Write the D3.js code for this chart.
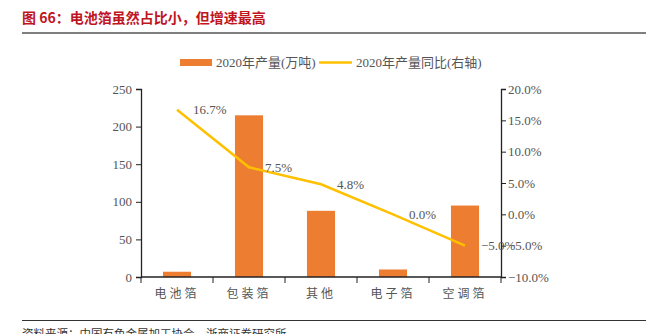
<!DOCTYPE html>
<html>
<head>
<meta charset="utf-8">
<script src="https://cdn.jsdelivr.net/npm/d3@7"></script>
<style>
  body { margin: 0; background: #fff; }
  svg { display: block; }
  .tick text { font-family: "Liberation Serif", "Times New Roman", serif; font-size: 13px; fill: #555; }
  .cn { font-family: "Noto Sans CJK SC", sans-serif; }
</style>
</head>
<body>
<div id="chart"></div>
<script>
// categories and values
let categories = ["电池箔", "包装箔", "其他", "电子箔", "空调箔"];
let output2020 = [7, 215, 88, 10, 95];          // 万吨
let growth2020 = [16.7, 7.5, 4.8, 0.0, -5.0];   // %
let leftTicks = [0, 50, 100, 150, 200, 250];
let rightTicks = [-10, -5, 0, 5, 10, 15, 20];

let svgWidth = 646;
let svgHeight = 334;

let margin = { top: 89, right: 145, bottom: 57, left: 141 };
let width = svgWidth - margin.left - margin.right;
let height = svgHeight - margin.top - margin.bottom;

let svg = d3.select("#chart")
    .append("svg")
    .attr("width", svgWidth)
    .attr("height", svgHeight);

// title + rule
svg.append("text")
    .attr("class", "cn")
    .attr("x", 22)
    .attr("y", 23)
    .attr("fill", "#c0151f")
    .attr("font-size", 14)
    .attr("font-weight", "bold")
    .text("图 66：电池箔虽然占比小，但增速最高");

svg.append("line")
    .attr("x1", 22).attr("x2", 646)
    .attr("y1", 33).attr("y2", 33)
    .attr("stroke", "#555").attr("stroke-width", 1.5);

// source footer
svg.append("line")
    .attr("x1", 22).attr("x2", 646)
    .attr("y1", 320.5).attr("y2", 320.5)
    .attr("stroke", "#333").attr("stroke-width", 1);

svg.append("text")
    .attr("class", "cn")
    .attr("x", 22)
    .attr("y", 338)
    .attr("fill", "#333")
    .attr("font-size", 11.5)
    .text("资料来源：中国有色金属加工协会，浙商证券研究所");

let g = svg.append("g")
    .attr("transform", `translate(${margin.left}, ${margin.top})`);

// scales
let x = d3.scaleBand()
    .domain(categories)
    .range([0, width])
    .paddingInner(0.61)
    .paddingOuter(0.305);

let xBand = d3.scaleBand().domain(categories).range([0, width]);

let yLeft = d3.scaleLinear().domain([0, 250]).range([height, 0]);
let yRight = d3.scaleLinear().domain([-10, 20]).range([height, 0]);

// bars
g.selectAll("rect.bar")
    .data(categories)
    .enter()
    .append("rect")
    .attr("class", "bar")
    .attr("x", d => x(d))
    .attr("width", x.bandwidth())
    .attr("y", (d, i) => yLeft(output2020[i]))
    .attr("height", (d, i) => height - yLeft(output2020[i]))
    .attr("fill", "#ed7d31");

// axes
let leftAxis = d3.axisLeft(yLeft).tickValues(leftTicks).tickSize(5).tickPadding(4);
let rightAxis = d3.axisRight(yRight).tickValues(rightTicks).tickSize(5).tickPadding(2)
    .tickFormat(d => d3.format(".1f")(d) + "%");

let gl = g.append("g").call(leftAxis);
let gr = g.append("g").attr("transform", `translate(${width}, 0)`).call(rightAxis);

[gl, gr].forEach(a => {
    a.select(".domain").attr("stroke", "#222").attr("stroke-width", 1.3);
    a.selectAll(".tick line").attr("stroke", "#222");
});

// x axis: ticks on category boundaries
let gx = g.append("g").attr("transform", `translate(0, ${height})`);
gx.append("line")
    .attr("x1", 0).attr("x2", width)
    .attr("stroke", "#222").attr("stroke-width", 1.3);
gx.selectAll("line.bnd")
    .data(categories)
    .enter()
    .append("line")
    .attr("class", "bnd")
    .attr("x1", (d, i) => xBand.step() * (i + 1))
    .attr("x2", (d, i) => xBand.step() * (i + 1))
    .attr("y1", 0).attr("y2", 6)
    .attr("stroke", "#222");
gx.append("line").attr("x1", 0).attr("x2", 0).attr("y1", 0).attr("y2", 6).attr("stroke", "#222");

gx.selectAll("text")
    .data(categories)
    .enter()
    .append("text")
    .attr("class", "cn")
    .attr("x", d => xBand(d) + xBand.bandwidth() / 2)
    .attr("y", 21)
    .attr("text-anchor", "middle")
    .attr("font-size", 12)
    .attr("letter-spacing", 3)
    .attr("fill", "#555")
    .text(d => d);

// growth line
let lineGen = d3.line()
    .x((d, i) => xBand(categories[i]) + xBand.bandwidth() / 2)
    .y(d => yRight(d));

g.append("path")
    .datum(growth2020)
    .attr("d", lineGen)
    .attr("fill", "none")
    .attr("stroke", "#ffc000")
    .attr("stroke-width", 2.5);

g.selectAll("text.lbl")
    .data(growth2020)
    .enter()
    .append("text")
    .attr("class", "lbl")
    .attr("x", (d, i) => xBand(categories[i]) + xBand.bandwidth() / 2 + 16)
    .attr("y", d => yRight(d))
    .attr("dy", "0.35em")
    .attr("font-family", "'Liberation Serif', 'Times New Roman', serif")
    .attr("font-size", 13)
    .attr("fill", "#555")
    .text(d => d3.format(".1f")(d) + "%");

// legend
let legend = svg.append("g");
legend.append("rect")
    .attr("x", 180).attr("y", 59)
    .attr("width", 32).attr("height", 7)
    .attr("fill", "#ed7d31");
legend.append("text")
    .attr("x", 216).attr("y", 67)
    .attr("font-family", "'Liberation Serif', 'Noto Sans CJK SC', serif")
    .attr("font-size", 13)
    .attr("fill", "#555")
    .text("2020年产量(万吨)");
legend.append("line")
    .attr("x1", 319).attr("x2", 352)
    .attr("y1", 62.5).attr("y2", 62.5)
    .attr("stroke", "#ffc000").attr("stroke-width", 2.5);
legend.append("text")
    .attr("x", 356).attr("y", 67)
    .attr("font-family", "'Liberation Serif', 'Noto Sans CJK SC', serif")
    .attr("font-size", 13)
    .attr("fill", "#555")
    .text("2020年产量同比(右轴)");
</script>
</body>
</html>
